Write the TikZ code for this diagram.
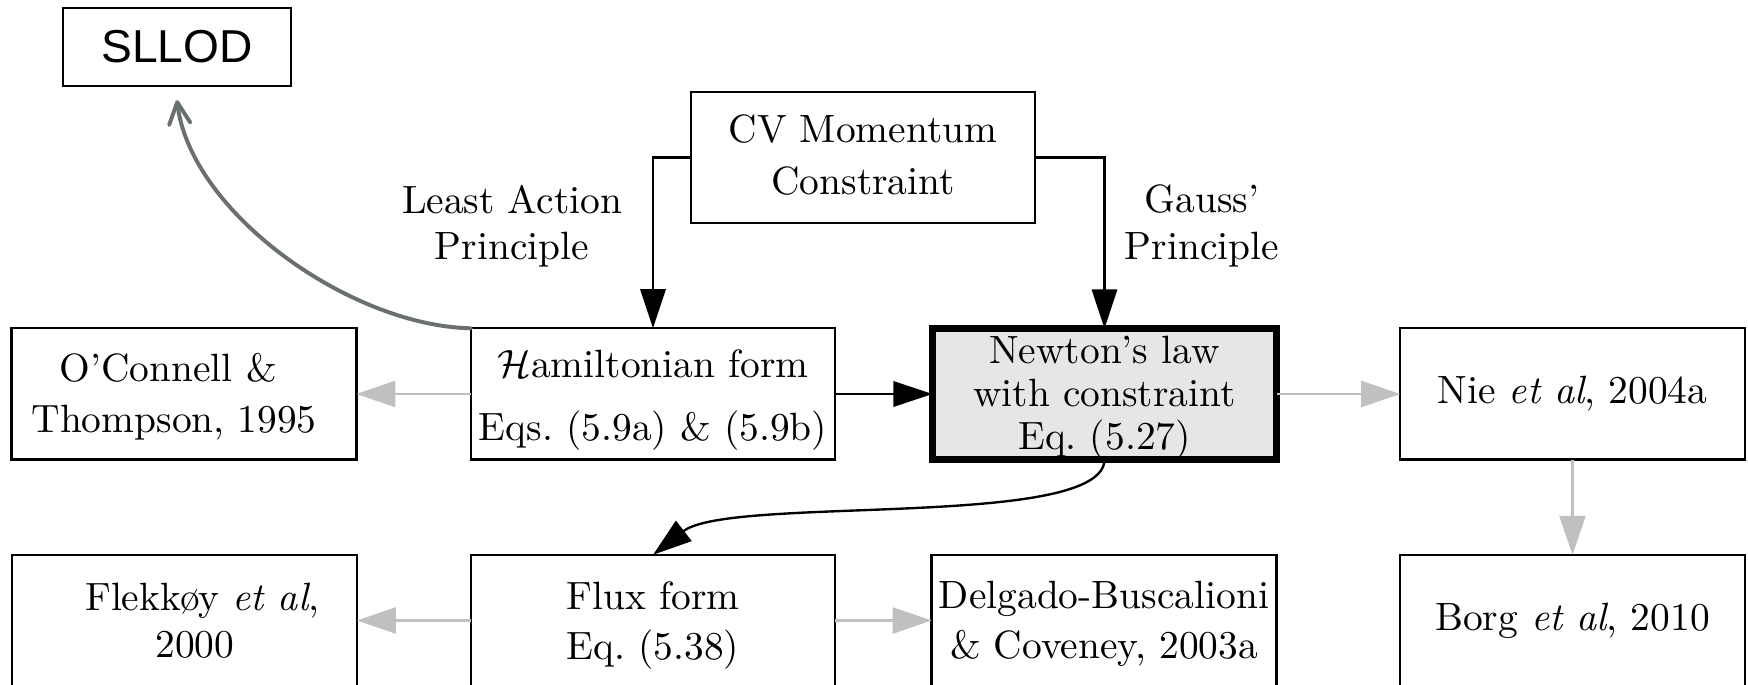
\documentclass[tikz,border=0pt]{standalone}
\usepackage{fontspec}
\newfontfamily\sllodfont{Liberation Sans}
\usetikzlibrary{arrows.meta}
\definecolor{gcol}{HTML}{C0C0C0}
\definecolor{scol}{HTML}{6A706E}
\definecolor{nfill}{HTML}{E6E6E6}
\newcommand\topup[1]{\rule{0pt}{#1}}
\newcommand\botdown[1]{\rule[-#1]{0pt}{0pt}}
\begin{document}
\begin{tikzpicture}[x=0.2535pt,y=-0.2535pt,
  box/.style={draw, line width=0.6pt, rectangle, inner sep=0pt, outer sep=0pt, align=center,
    minimum width=87.4pt, minimum height=33.3pt},
  widebox/.style={box, minimum width=92.3pt},
  fs/.style={font=\fontsize{10pt}{#1}\selectfont},
  lbl/.style={inner sep=0pt, align=center},
  barrow/.style={draw=black, line width=0.6pt, -{Triangle[length=9.9pt,width=6.4pt]}},
  garrow/.style={draw=gcol, line width=0.65pt, -{Triangle[length=9.9pt,width=6.6pt]}},
  sarrow/.style={draw=scol, line width=1pt, line cap=round, -{Straight Barb[length=5.5pt,width=5.4pt,round]}}
]
\useasboundingbox (0,0) rectangle (1748,685);

% nodes
\node[draw, line width=0.6pt, inner sep=0pt, minimum width=57.8pt, minimum height=19.8pt,
      font=\sllodfont\fontsize{11.7pt}{14pt}\selectfont] (sllod) at (177,47) {SLLOD};
\node[box, minimum width=87.2pt, fs=13.2pt] (cv) at (863,157.5) {CV Momentum\\Constraint\botdown{1.5pt}};
\node[lbl, fs=11.7pt] (lap) at (512,226) {Least Action\\Principle};
\node[lbl, fs=11.9pt] (gp) at (1202,226) {Gauss'\\Principle};

\node[box, fs=13pt] (oc) at (184,394) {\topup{8.4pt}O'Connell \&\rule{8pt}{0pt}\\Thompson, 1995\rule{5pt}{0pt}};
\node[widebox, fs=16pt] (ham) at (653,394) {\topup{9.9pt}$\mathcal{H}$amiltonian form\\Eqs.~(5.9a) \& (5.9b)};
\node[box, line width=1.77pt, fill=nfill, minimum width=87.2pt, minimum height=33.2pt, fs=10.9pt]
      (newton) at (1104.5,394) {\topup{8.6pt}Newton's law\\with constraint\\Eq.~(5.27)};
\node[box, fs=12pt] (nie) at (1572.5,394) {Nie \textit{et al}, 2004a};

\node[box, fs=11.9pt] (flek) at (184.5,620.5) {\rule{9pt}{0pt}Flekk\o y \textit{et al},\\\rule{5.3pt}{0pt}2000};
\node[widebox, fs=12.6pt] (flux) at (653,620.5) {\topup{9.6pt}Flux form\\Eq.~(5.38)};
\node[box, fs=12.6pt] (delg) at (1104,620.5) {\topup{8.5pt}Delgado-Buscalioni\\\& Coveney, 2003a};
\node[box, fs=12pt] (borg) at (1572.5,620.5) {Borg \textit{et al}, 2010};

% connectors
\draw[barrow] (cv.west) -| (ham.north);
\draw[barrow] (cv.east) -| (newton.north);
\draw[barrow] (ham.east) -- (newton.west);
\draw[garrow] (ham.west) -- (oc.east);
\draw[garrow] (newton.east) -- (nie.west);
\draw[garrow] (nie.south) -- (borg.north);
\draw[garrow] (flux.west) -- (flek.east);
\draw[garrow] (flux.east) -- (delg.west);
\draw[barrow] (newton.south) .. controls (1104,530) and (730,495) .. (flux.north);
\draw[sarrow] (ham.north west) .. controls (350,326) and (190,212) .. ([yshift=-3.3pt]sllod.south);
\end{tikzpicture}
\end{document}
